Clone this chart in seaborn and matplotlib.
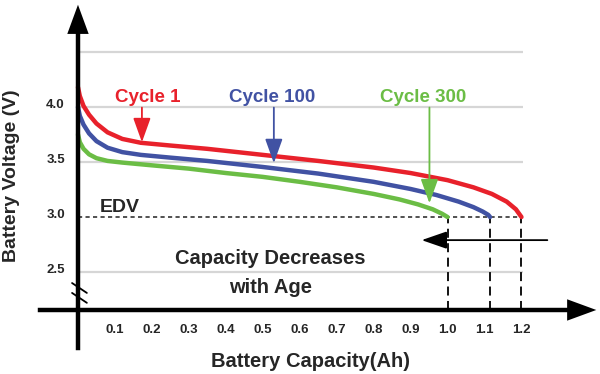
import matplotlib
matplotlib.use('Agg')
import matplotlib.pyplot as plt
import matplotlib.transforms as mtransforms
import seaborn as sns
import pandas as pd

# ---- data ----
cap_cycle1 = [0.0, 0.005, 0.015, 0.03, 0.05, 0.08, 0.12, 0.17, 0.25, 0.35, 0.5, 0.65, 0.8, 0.9,
              1.0, 1.07, 1.12, 1.16, 1.185, 1.2]
volt_cycle1 = [4.18, 4.10, 4.01, 3.93, 3.85, 3.77, 3.71, 3.675, 3.65, 3.62, 3.565, 3.51, 3.45, 3.40,
               3.335, 3.27, 3.21, 3.14, 3.07, 3.0]

cap_cycle100 = [0.0, 0.005, 0.015, 0.03, 0.05, 0.08, 0.12, 0.17, 0.25, 0.35, 0.5, 0.65, 0.8, 0.9,
                0.97, 1.03, 1.07, 1.095, 1.11, 1.115]
volt_cycle100 = [4.00, 3.92, 3.84, 3.76, 3.69, 3.63, 3.59, 3.565, 3.54, 3.51, 3.455, 3.395, 3.32, 3.255,
                 3.20, 3.14, 3.09, 3.05, 3.02, 3.0]

cap_cycle300 = [0.0, 0.005, 0.015, 0.03, 0.05, 0.08, 0.12, 0.2, 0.3, 0.4, 0.5, 0.6, 0.7, 0.8,
                0.87, 0.92, 0.96, 0.985, 1.0]
volt_cycle300 = [3.75, 3.68, 3.62, 3.57, 3.535, 3.51, 3.495, 3.47, 3.44, 3.40, 3.365, 3.32, 3.27, 3.21,
                 3.16, 3.115, 3.07, 3.03, 3.0]

series_names = ['Cycle 1', 'Cycle 100', 'Cycle 300']
series_colors = ['#e8212b', '#4152a3', '#6bbd45']
end_capacity = [1.2, 1.115, 1.0]
edv = 3.0
y_ticks = [2.5, 3.0, 3.5, 4.0]
y_tick_labels = ['2.5', '3.0', '3.5', '4.0']
grid_levels = [2.5, 3.5, 4.0, 4.5]
x_ticks = [0.1, 0.2, 0.3, 0.4, 0.5, 0.6, 0.7, 0.8, 0.9, 1.0, 1.1, 1.2]
x_tick_labels = ['0.1', '0.2', '0.3', '0.4', '0.5', '0.6', '0.7', '0.8', '0.9', '1.0', '1.1', '1.2']

df = pd.concat([
    pd.DataFrame({'cap': cap_cycle1, 'volt': volt_cycle1, 'cycle': 'Cycle 1'}),
    pd.DataFrame({'cap': cap_cycle100, 'volt': volt_cycle100, 'cycle': 'Cycle 100'}),
    pd.DataFrame({'cap': cap_cycle300, 'volt': volt_cycle300, 'cycle': 'Cycle 300'}),
])

sns.set_style('white')
plt.rcParams['font.family'] = ['Liberation Sans', 'DejaVu Sans']
plt.rcParams['font.weight'] = 'bold'

fig = plt.figure(figsize=(6, 3.74), dpi=100)
ax = fig.add_axes([0, 0, 1, 1])
ax.set_xlim(-0.211, 1.4125)
ax.set_ylim(1.573, 4.973)
x_axis_at = 2.155

# light grid lines
ax.hlines(grid_levels, 0, 1.205, colors='#d6d6d6', linewidth=1.6, zorder=1)

# EDV line and capacity drop lines
ax.hlines(edv, 0, 1.2, colors='#333333', linewidth=1.2, linestyles=(0, (2.5, 2)), zorder=2)
ax.vlines(end_capacity, x_axis_at, edv, colors='black', linewidth=1.3,
          linestyles=(0, (5, 3)), zorder=2)

sns.lineplot(data=df, x='cap', y='volt', hue='cycle', hue_order=series_names,
             palette=series_colors, linewidth=3.2, legend=False, sort=False, ax=ax, zorder=4)

# axes: spines moved into the data and arrow heads
for s in ['top', 'right']:
    ax.spines[s].set_visible(False)
ax.spines['left'].set_position(('data', 0))
ax.spines['bottom'].set_position(('data', x_axis_at))
ax.spines['left'].set_bounds(1.81, 4.75)
ax.spines['bottom'].set_bounds(-0.103, 1.33)
for s in ['left', 'bottom']:
    ax.spines[s].set_linewidth(3.2)
    ax.spines[s].set_color('black')
    ax.spines[s].set_zorder(5)

ax.annotate('', xy=(0, 4.955), xytext=(0, 4.6),
            arrowprops=dict(arrowstyle='-|>,head_length=1.5,head_width=0.55',
                            color='black', lw=0, mutation_scale=14), zorder=6)
ax.annotate('', xy=(1.41, x_axis_at), xytext=(1.2, x_axis_at),
            arrowprops=dict(arrowstyle='-|>,head_length=1.5,head_width=0.55',
                            color='black', lw=0, mutation_scale=14), zorder=6)

ax.set_yticks(y_ticks)
ax.set_yticklabels(y_tick_labels)
ax.set_xticks(x_ticks)
ax.set_xticklabels(x_tick_labels)
ax.tick_params(axis='y', direction='inout', length=10, width=1.3, pad=4.5, labelsize=9.5)
ax.tick_params(axis='x', direction='in', length=5.5, width=1.3, pad=10, labelsize=9.5)
lift = mtransforms.ScaledTranslation(0, 0.035, fig.dpi_scale_trans)
for lab in ax.get_yticklabels():
    lab.set_fontweight('bold')
    lab.set_transform(lab.get_transform() + lift)
for lab in ax.get_xticklabels():
    lab.set_fontweight('bold')
ax.set_xlabel('')
ax.set_ylabel('')

# axis break marks
ax.plot([-0.016, 0.024], [2.40, 2.31], color='black', lw=1.3, zorder=6)
ax.plot([-0.016, 0.024], [2.31, 2.22], color='black', lw=1.3, zorder=6)

# axis titles
ax.text(0.63, 1.685, 'Battery Capacity(Ah)', ha='center', va='center',
        fontsize=14.5, fontweight='bold')
ax.text(-0.18, 3.375, 'Battery Voltage (V)', ha='center', va='center',
        rotation=90, fontsize=14, fontweight='bold')

# series labels with pointer arrows
label_x = [0.19, 0.525, 0.935]
arrow_x = [0.173, 0.53, 0.951]
arrow_tip = [3.68, 3.49, 3.125]
for name, col, lx, axx, tip in zip(series_names, series_colors, label_x, arrow_x, arrow_tip):
    ax.text(lx, 4.085, name, color=col, ha='center', va='center',
            fontsize=13.5, fontweight='bold')
    ax.annotate('', xy=(axx, tip), xytext=(axx, 3.995),
                arrowprops=dict(arrowstyle='-|>,head_length=1.25,head_width=0.45',
                                color=col, lw=1.3, mutation_scale=12,
                                shrinkA=0, shrinkB=0), zorder=6)

ax.text(0.06, 3.085, 'EDV', ha='left', va='center', fontsize=14, fontweight='bold')

ax.annotate('', xy=(0.93, 2.79), xytext=(1.27, 2.79),
            arrowprops=dict(arrowstyle='-|>,head_length=1.3,head_width=0.45',
                            color='black', lw=1.3, mutation_scale=12,
                            shrinkA=0, shrinkB=0), zorder=6)
ax.text(0.52, 2.62, 'Capacity Decreases', ha='center', va='center',
        fontsize=14.5, fontweight='bold')
ax.text(0.52, 2.36, 'with Age', ha='center', va='center',
        fontsize=14.5, fontweight='bold')

fig.savefig('out.png', dpi=100)
